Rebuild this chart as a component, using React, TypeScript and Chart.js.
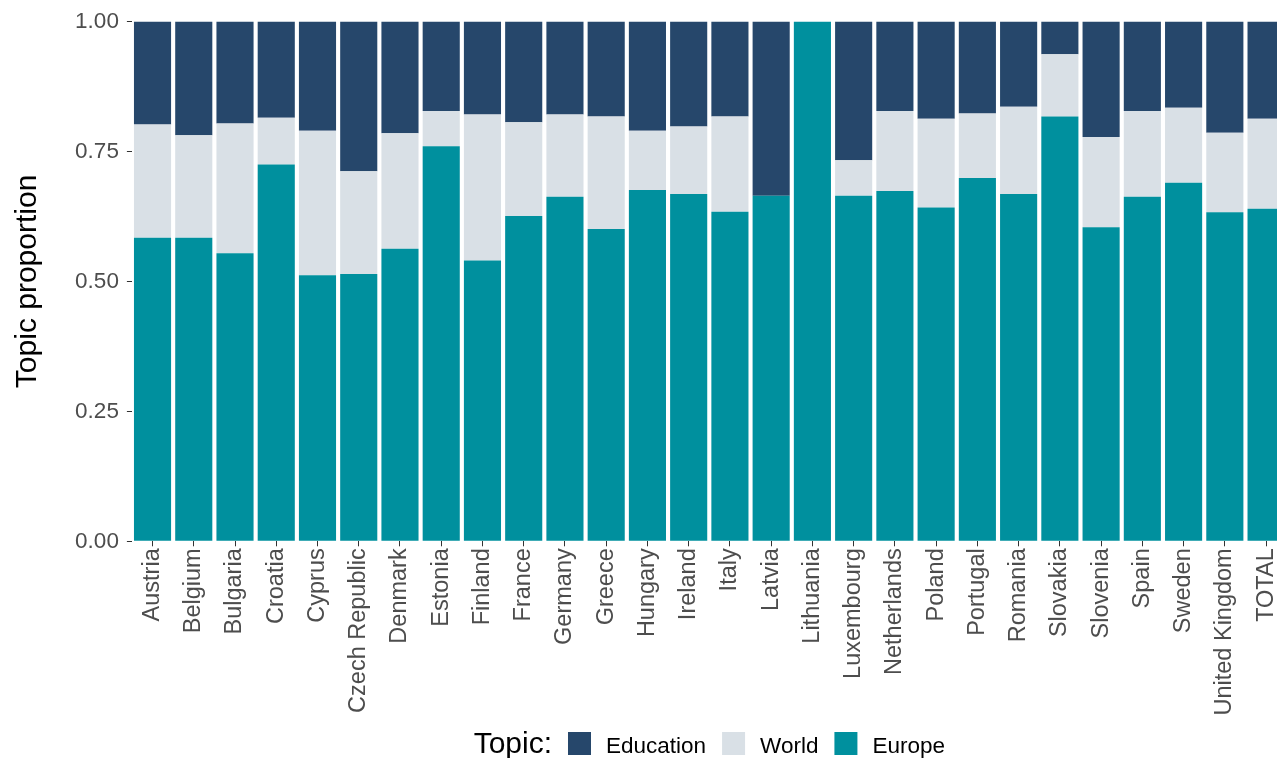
import React, { useEffect, useRef } from "react";
import { Chart, registerables } from "chart.js";

Chart.register(...registerables);

const countries = [
  "Austria", "Belgium", "Bulgaria", "Croatia", "Cyprus", "Czech Republic", "Denmark",
  "Estonia", "Finland", "France", "Germany", "Greece", "Hungary", "Ireland", "Italy",
  "Latvia", "Lithuania", "Luxembourg", "Netherlands", "Poland", "Portugal", "Romania",
  "Slovakia", "Slovenia", "Spain", "Sweden", "United Kingdom", "TOTAL",
];

const europe = [
  0.584, 0.584, 0.554, 0.725, 0.512, 0.514, 0.563, 0.760, 0.540, 0.626, 0.663, 0.601,
  0.676, 0.668, 0.634, 0.665, 1.0, 0.665, 0.674, 0.642, 0.699, 0.668, 0.817, 0.604,
  0.663, 0.690, 0.633, 0.640,
];

const world = [
  0.218, 0.197, 0.250, 0.090, 0.278, 0.198, 0.222, 0.068, 0.281, 0.180, 0.158, 0.216,
  0.114, 0.130, 0.183, 0.0, 0.0, 0.068, 0.154, 0.171, 0.124, 0.168, 0.120, 0.174,
  0.165, 0.144, 0.153, 0.173,
];

const education = [
  0.198, 0.219, 0.196, 0.185, 0.210, 0.288, 0.215, 0.172, 0.179, 0.194, 0.179, 0.183,
  0.210, 0.202, 0.183, 0.335, 0.0, 0.267, 0.172, 0.187, 0.177, 0.164, 0.063, 0.222,
  0.172, 0.166, 0.214, 0.187,
];

const yTicks = [0, 0.25, 0.5, 0.75, 1.0];

const FONT = "'Liberation Sans', Arial, Helvetica, sans-serif";
const COLORS = { Education: "#26476b", World: "#d9e0e6", Europe: "#00909e" };

const legendPlugin = {
  id: "ggLegend",
  afterDraw(chart: any) {
    const ctx = chart.ctx;
    const area = chart.chartArea;
    const items = chart.data.datasets
      .slice()
      .reverse()
      .map((d: any) => ({ label: d.label, color: d.backgroundColor }));
    ctx.save();
    ctx.textBaseline = "alphabetic";
    ctx.textAlign = "left";
    ctx.font = `30px ${FONT}`;
    const titleW = ctx.measureText("Topic:").width;
    ctx.font = `22.5px ${FONT}`;
    const sw = 23;
    const gapTitle = 16;
    const gapText = 15;
    const gapItem = 16;
    let total = titleW + gapTitle;
    items.forEach((it: any, i: number) => {
      total += sw + gapText + ctx.measureText(it.label).width + (i < items.length - 1 ? gapItem : 0);
    });
    const cx = (area.left + area.right) / 2;
    let x = cx - total / 2;
    const base = 753;
    ctx.fillStyle = "#000";
    ctx.font = `30px ${FONT}`;
    ctx.fillText("Topic:", x, base);
    x += titleW + gapTitle;
    ctx.font = `22.5px ${FONT}`;
    items.forEach((it: any) => {
      ctx.fillStyle = it.color;
      ctx.fillRect(x, 732, sw, sw);
      x += sw + gapText;
      ctx.fillStyle = "#000";
      ctx.fillText(it.label, x, base);
      x += ctx.measureText(it.label).width + gapItem;
    });
    ctx.restore();
  },
};

export default function App() {
  const ref = useRef<HTMLCanvasElement | null>(null);

  useEffect(() => {
    if (!ref.current) return;
    const chart = new Chart(ref.current, {
      type: "bar",
      data: {
        labels: countries,
        datasets: [
          { label: "Europe", data: europe, backgroundColor: COLORS.Europe },
          { label: "World", data: world, backgroundColor: COLORS.World },
          { label: "Education", data: education, backgroundColor: COLORS.Education },
        ],
      },
      options: {
        responsive: false,
        animation: false,
        maintainAspectRatio: false,
        layout: { padding: { left: 0, top: 21.3, right: 13.3, bottom: 36.7 } },
        datasets: { bar: { barPercentage: 0.9, categoryPercentage: 1.0, borderWidth: 0 } },
        plugins: {
          legend: { display: false },
          tooltip: { enabled: false },
          title: { display: false },
        },
        scales: {
          x: {
            stacked: true,
            offset: true,
            border: { display: false },
            grid: {
              display: true,
              offset: false,
              drawOnChartArea: false,
              drawTicks: true,
              tickLength: 5,
              color: "#333333",
            },
            ticks: {
              autoSkip: false,
              maxRotation: 90,
              minRotation: 90,
              padding: 2,
              color: "#4d4d4d",
              font: { family: FONT, size: 23.5 },
            },
            afterFit: (scale: any) => {
              scale.height = 180;
            },
          },
          y: {
            stacked: true,
            min: 0,
            max: 1,
            border: { display: false },
            grid: {
              display: true,
              drawOnChartArea: false,
              drawTicks: true,
              tickLength: 5,
              color: "#333333",
            },
            afterBuildTicks: (scale: any) => {
              scale.ticks = yTicks.map((v) => ({ value: v }));
            },
            ticks: {
              padding: 8,
              color: "#4d4d4d",
              font: { family: FONT, size: 22.5 },
              callback: (v: any) => Number(v).toFixed(2),
            },
            title: {
              display: true,
              text: "Topic proportion",
              color: "#000000",
              font: { family: FONT, size: 30 },
              padding: { top: 10, bottom: 0 },
            },
            afterFit: (scale: any) => {
              scale.width = 131.9;
            },
          },
        },
      },
      plugins: [legendPlugin],
    });
    return () => chart.destroy();
  }, []);

  return (
    <div
      style={{
        position: "fixed",
        left: 0,
        top: 0,
        width: 1277,
        height: 758,
        overflow: "hidden",
        background: "#ffffff",
      }}
    >
      <canvas ref={ref} width={1300} height={758} style={{ width: 1300, height: 758, display: "block" }} />
    </div>
  );
}
